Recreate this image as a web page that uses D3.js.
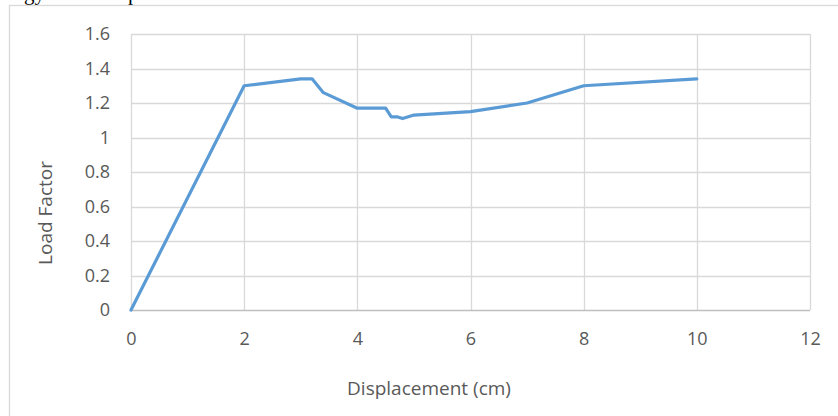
<!DOCTYPE html>
<html>
<head>
<meta charset="utf-8">
<script src="https://cdn.jsdelivr.net/npm/d3@7"></script>
<style>
  html, body { margin: 0; padding: 0; background: #fff; }
  svg { display: block; }
</style>
</head>
<body>
<svg id="chart" width="838" height="416"></svg>
<script>
// Data
const displacement = [0, 2, 3, 3.2, 3.4, 4, 4.5, 4.6, 4.7, 4.8, 5, 6, 7, 8, 10];
const loadFactor   = [0, 1.3, 1.34, 1.34, 1.26, 1.17, 1.17, 1.12, 1.12, 1.11, 1.13, 1.15, 1.2, 1.3, 1.34];
const xTicks = [0, 2, 4, 6, 8, 10, 12];
const yTicks = [0, 0.2, 0.4, 0.6, 0.8, 1, 1.2, 1.4, 1.6];
const xTitle = "Displacement (cm)";
const yTitle = "Load Factor";

const svg = d3.select("#chart");
const font = "'Open Sans', sans-serif";
const textColor = "#595959";

// fragment of document text above the chart (clipped, as in the reference)
svg.append("text").attr("x", 45).attr("y", 0).attr("text-anchor", "end")
  .attr("font-family", "'Liberation Serif', serif").attr("font-size", 21).attr("fill", "#000")
  .text("energy");
svg.append("text").attr("x", 128).attr("y", 0)
  .attr("font-family", "'Liberation Serif', serif").attr("font-size", 21).attr("fill", "#000")
  .text("p");

// chart border
svg.append("rect").attr("x", 9.5).attr("y", 5.5).attr("width", 900).attr("height", 500)
  .attr("fill", "none").attr("stroke", "#D9D9D9").attr("stroke-width", 1.3);

const x = d3.scaleLinear().domain([0, 12]).range([131, 810]);
const y = d3.scaleLinear().domain([0, 1.6]).range([310, 34]);

// gridlines
svg.append("g").selectAll("line").data(yTicks.filter(d => d > 0)).join("line")
  .attr("x1", x(0)).attr("x2", x(12))
  .attr("y1", d => Math.round(y(d)) + 0.5).attr("y2", d => Math.round(y(d)) + 0.5)
  .attr("stroke", "#D9D9D9").attr("stroke-width", 1.3);
svg.append("g").selectAll("line").data(xTicks).join("line")
  .attr("y1", y(1.6)).attr("y2", y(0))
  .attr("x1", d => Math.round(x(d)) + 0.5).attr("x2", d => Math.round(x(d)) + 0.5)
  .attr("stroke", "#D9D9D9").attr("stroke-width", 1.3);

// x axis line
svg.append("line").attr("x1", x(0)).attr("x2", x(12))
  .attr("y1", Math.round(y(0)) + 0.5).attr("y2", Math.round(y(0)) + 0.5)
  .attr("stroke", "#BFBFBF").attr("stroke-width", 1.3);

// axes (labels only)
const xAxis = d3.axisBottom(x).tickValues(xTicks).tickSize(0).tickPadding(22).tickFormat(d3.format("~g"));
const gx = svg.append("g").attr("transform", `translate(0,${y(0)})`).call(xAxis);
gx.select(".domain").remove();
gx.selectAll("text").attr("font-family", font).attr("font-size", 18).attr("fill", textColor);

const yAxis = d3.axisLeft(y).tickValues(yTicks).tickSize(0).tickPadding(21).tickFormat(d3.format("~g"));
const gy = svg.append("g").attr("transform", `translate(${x(0)},0)`).call(yAxis);
gy.select(".domain").remove();
gy.selectAll("text").attr("font-family", font).attr("font-size", 18).attr("fill", textColor);

// line
const pts = displacement.map((d, i) => [d, loadFactor[i]]);
svg.append("path").datum(pts)
  .attr("fill", "none").attr("stroke", "#5B9BD5").attr("stroke-width", 3.2)
  .attr("stroke-linejoin", "round").attr("stroke-linecap", "round")
  .attr("d", d3.line().x(d => x(d[0])).y(d => y(d[1])));

// titles
svg.append("text").attr("x", 429).attr("y", 395).attr("text-anchor", "middle")
  .attr("font-family", font).attr("font-size", 19).attr("fill", textColor).text(xTitle);
svg.append("text").attr("transform", "translate(52,213) rotate(-90)").attr("text-anchor", "middle")
  .attr("font-family", font).attr("font-size", 19).attr("fill", textColor).text(yTitle);
</script>
</body>
</html>
